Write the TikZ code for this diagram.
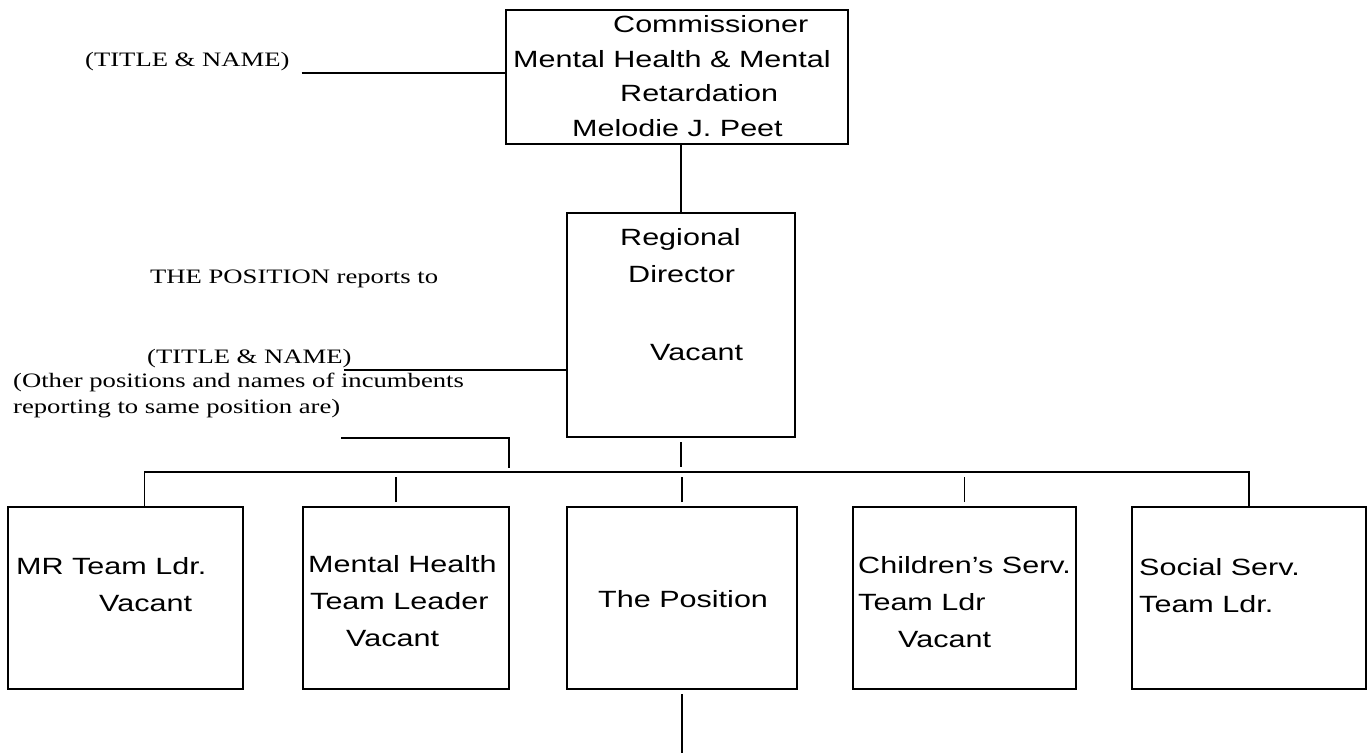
\documentclass[tikz,border=0pt]{standalone}
\usepackage{fontspec}
\setmainfont[FakeStretch=1.3]{Liberation Serif}
\setsansfont[FakeStretch=1.3]{Liberation Sans}
\usetikzlibrary{positioning}

\tikzset{
  posbox/.style={draw, line width=1.1pt, anchor=north west, inner sep=0pt, outer sep=0pt},
  boxtext/.style={anchor=base west, inner sep=0pt, align=left, font=\sffamily\fontsize{23.5}{37}\selectfont},
  formtext/.style={anchor=base west, inner sep=0pt, align=left, font=\rmfamily\fontsize{20.5}{26}\selectfont},
  link/.style={line width=1.1pt},
  tick/.style={line width=1.1pt, shorten <=5pt, shorten >=5pt}
}

\begin{document}
\begin{tikzpicture}[x=1pt,y=-1pt]
   \useasboundingbox (0,0) rectangle (1371,753);
   % boxes
   \node[posbox, minimum width=342pt, minimum height=134pt] (comm) at (506,10) {};
   \node[posbox, minimum width=228pt, minimum height=224pt] (reg)  at (567,213) {};
   \node[posbox, minimum width=235pt, minimum height=182pt] (mr)   at (8,507) {};
   \node[posbox, minimum width=206pt, minimum height=182pt] (mh)   at (303,507) {};
   \node[posbox, minimum width=230pt, minimum height=182pt] (pos)  at (567,507) {};
   \node[posbox, minimum width=223pt, minimum height=182pt] (ch)   at (853,507) {};
   \node[posbox, minimum width=234pt, minimum height=182pt] (soc)  at (1132,507) {};
   % box texts (placed at the baseline of their last line)
   \node[boxtext, font=\sffamily\fontsize{23.5}{34.5}\selectfont] (commtxt) at (513,136)
      {\hspace*{100pt}Commissioner\\Mental Health \& Mental\\\hspace*{107pt}Retardation\\\hspace*{59pt}Melodie J. Peet};
   \node[boxtext] (regtxt) at (620,360) {Regional\\\hspace*{8pt}Director\\[41pt]\hspace*{30pt}Vacant};
   \node[boxtext] (mrtxt)  at (16,611)  {MR Team Ldr.\\\hspace*{83pt}Vacant};
   \node[boxtext] (mhtxt)  at (308,646) {Mental Health\\\hspace*{2pt}Team Leader\\\hspace*{38pt}Vacant};
   \node[boxtext] (postxt) at (598,607) {The Position};
   \node[boxtext] (chtxt)  at (858,647) {Children's Serv.\\Team Ldr\\\hspace*{40pt}Vacant};
   \node[boxtext] (soctxt) at (1139,612) {Social Serv.\\Team Ldr.};
   % form texts
   \node[formtext] (titlea)    at (85,66)   {(TITLE \& NAME)};
   \node[formtext] (reportsto) at (150,283) {THE POSITION reports to};
   \node[formtext] (titleb)    at (147,363) {(TITLE \& NAME)};
   \node[formtext] (others)    at (13,413)  {(Other positions and names of incumbents\\reporting to same position are)};
   \coordinate (othersend) at (341,438);
   \coordinate (posout) at (680,753);
   % connectors
   \draw[link] ([shift={(12,7)}]titlea.base east) coordinate (ta) -- (ta -| comm.west);
   \draw[link] (reg.north) -- (reg.north |- comm.south);
   \draw[link] ([shift={(-8,7)}]titleb.base east) coordinate (tb) -- (tb -| reg.west);
   \draw[link] ([xshift=19pt]mr.north) -- ++(0,-35) coordinate (bus) -| (soc.north);
   \draw[link, shorten >=4pt] (othersend) -| (mh.north east |- bus);
   \draw[tick] (reg.south) -- (reg.south |- bus);
   \draw[tick] ([xshift=-10pt]mh.north) -- ([xshift=-10pt]mh.north |- bus);
   \draw[tick] (pos.north) -- (pos.north |- bus);
   \draw[tick] (ch.north) -- (ch.north |- bus);
   \draw[link, shorten <=5pt] (pos.south) -- (pos.south |- posout);
\end{tikzpicture}
\end{document}
